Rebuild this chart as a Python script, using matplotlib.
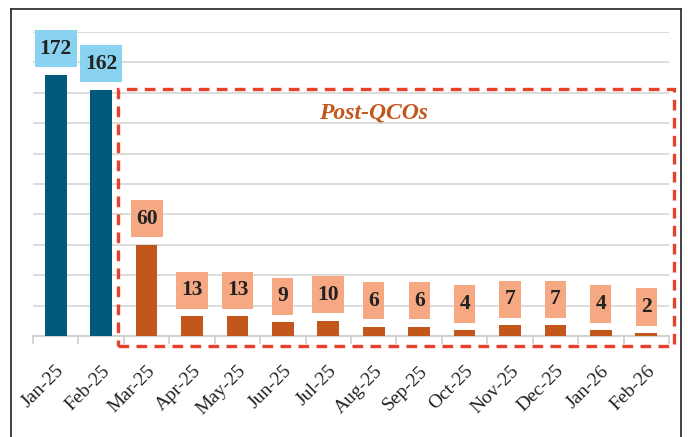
import matplotlib.pyplot as plt
from matplotlib.patches import Rectangle
from matplotlib.lines import Line2D
from matplotlib.path import Path

meses = ['Jan-25', 'Feb-25', 'Mar-25', 'Apr-25', 'May-25', 'Jun-25', 'Jul-25',
         'Aug-25', 'Sep-25', 'Oct-25', 'Nov-25', 'Dec-25', 'Jan-26', 'Feb-26']
valores = [172, 162, 60, 13, 13, 9, 10, 6, 6, 4, 7, 7, 4, 2]
n_pre = 2  # meses antes de los QCOs

plt.rcParams['font.family'] = ['Liberation Serif', 'DejaVu Serif']


def caja_etiqueta(x0, y0, width, height, mutation_size):
    # caja con mas relleno vertical que horizontal
    px = 0.24 * mutation_size
    py = 0.40 * mutation_size
    x0, y0 = x0 - px, y0 - py
    x1, y1 = x0 + width + 2 * px, y0 + height + 2 * py
    return Path([(x0, y0), (x1, y0), (x1, y1), (x0, y1), (x0, y0)], closed=True)


fig = plt.figure(figsize=(6.88, 4.37), dpi=100)
ax = fig.add_axes([0.048, 0.2311, 0.9244, 0.6957])

colores = ['#015A7C'] * n_pre + ['#C2561B'] * (len(valores) - n_pre)
cajas = ['#89D3F0'] * n_pre + ['#F5A882'] * (len(valores) - n_pre)
x = list(range(len(meses)))
ax.bar(x, valores, width=0.48, color=colores, zorder=3)

for i, v in enumerate(valores):
    ax.annotate(str(v), (i, v), xytext=(0, 16), textcoords='offset pixels',
                ha='center', va='bottom', fontsize=15.5, fontweight='bold',
                color='#222222', zorder=5,
                bbox=dict(boxstyle=caja_etiqueta, fc=cajas[i], ec='none'))

ax.set_ylim(0, 200)
ax.set_xlim(-0.5, len(meses) - 0.5)
ax.set_yticks(range(0, 201, 20))
ax.yaxis.grid(True, color='#D9D9D9', linewidth=1.3, zorder=0)
ax.tick_params(axis='y', left=False, labelleft=False)
for s in ['top', 'right', 'left']:
    ax.spines[s].set_visible(False)
ax.spines['bottom'].set_color('#D0D0D0')
ax.spines['bottom'].set_linewidth(1.3)

ax.set_xticks(x)
ax.set_xticklabels(meses, rotation=45, ha='right', rotation_mode='anchor', fontsize=14, color='#222222')
ax.tick_params(axis='x', length=0, pad=19)
ax.set_xticks([i - 0.5 for i in range(len(meses) + 1)], minor=True)
ax.tick_params(axis='x', which='minor', length=6, color='#D0D0D0', width=1.3)

# recuadro rojo de los QCOs
caja = Rectangle((1.37, -6.6), 12.24, 169, fill=False, ec='#E8412B', lw=2.4,
                 ls=(0, (3.2, 2.2)), clip_on=False, zorder=4)
ax.add_patch(caja)
ax.text(7.0, 147, 'Post-QCOs', ha='center', va='center', fontsize=17,
        fontweight='bold', fontstyle='italic', color='#C2561B')

# marco de la figura
W, H = 688, 437
for xs, ys in [([11, 11], [437, 9]), ([11, 681], [9, 9]), ([681, 681], [9, 437])]:
    fig.add_artist(Line2D([a / W for a in xs], [1 - b / H for b in ys],
                          color='#333333', lw=1.3))

fig.savefig('out.png', dpi=100)
